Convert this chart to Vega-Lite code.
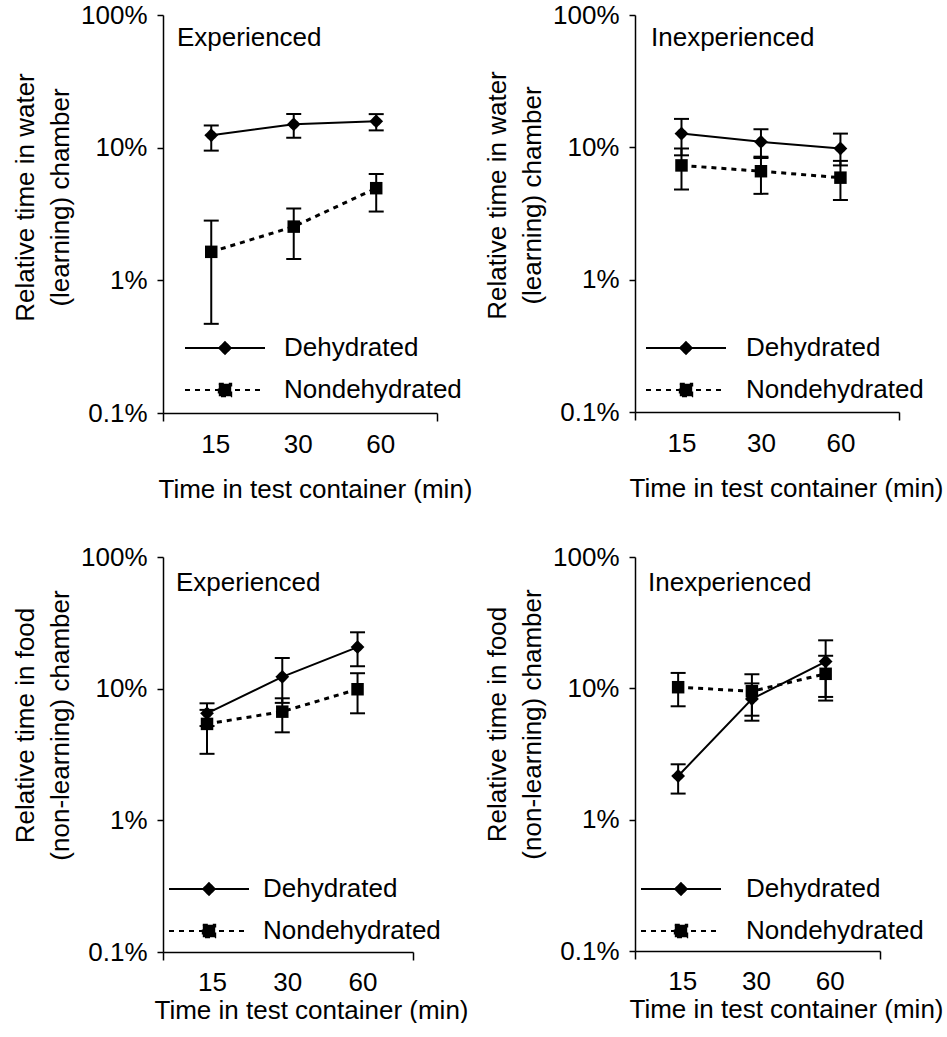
{
  "$schema": "https://vega.github.io/schema/vega-lite/v6.json",
  "padding": {"left": 12, "top": 2, "right": 0, "bottom": 0},
  "background": "white",
  "data": {"values": [
    {"panel": "WE", "group": "Dehydrated", "time": 15, "mean": 12.4, "lo": 9.5, "hi": 14.7},
    {"panel": "WE", "group": "Dehydrated", "time": 30, "mean": 15.0, "lo": 11.9, "hi": 17.9},
    {"panel": "WE", "group": "Dehydrated", "time": 60, "mean": 15.8, "lo": 13.5, "hi": 17.9},
    {"panel": "WE", "group": "Nondehydrated", "time": 15, "mean": 1.64, "lo": 0.47, "hi": 2.82},
    {"panel": "WE", "group": "Nondehydrated", "time": 30, "mean": 2.54, "lo": 1.45, "hi": 3.48},
    {"panel": "WE", "group": "Nondehydrated", "time": 60, "mean": 4.95, "lo": 3.3, "hi": 6.33},
    {"panel": "WI", "group": "Dehydrated", "time": 15, "mean": 12.7, "lo": 8.7, "hi": 16.4},
    {"panel": "WI", "group": "Dehydrated", "time": 30, "mean": 11.0, "lo": 8.3, "hi": 13.7},
    {"panel": "WI", "group": "Dehydrated", "time": 60, "mean": 9.8, "lo": 7.3, "hi": 12.7},
    {"panel": "WI", "group": "Nondehydrated", "time": 15, "mean": 7.3, "lo": 4.8, "hi": 9.8},
    {"panel": "WI", "group": "Nondehydrated", "time": 30, "mean": 6.6, "lo": 4.45, "hi": 8.5},
    {"panel": "WI", "group": "Nondehydrated", "time": 60, "mean": 5.9, "lo": 4.0, "hi": 7.9},
    {"panel": "FE", "group": "Dehydrated", "time": 15, "mean": 6.5, "lo": 5.2, "hi": 7.74},
    {"panel": "FE", "group": "Dehydrated", "time": 30, "mean": 12.3, "lo": 7.8, "hi": 17.1},
    {"panel": "FE", "group": "Dehydrated", "time": 60, "mean": 20.7, "lo": 14.8, "hi": 26.8},
    {"panel": "FE", "group": "Nondehydrated", "time": 15, "mean": 5.4, "lo": 3.2, "hi": 6.9},
    {"panel": "FE", "group": "Nondehydrated", "time": 30, "mean": 6.69, "lo": 4.66, "hi": 8.45},
    {"panel": "FE", "group": "Nondehydrated", "time": 60, "mean": 9.9, "lo": 6.5, "hi": 13.1},
    {"panel": "FI", "group": "Dehydrated", "time": 15, "mean": 2.15, "lo": 1.58, "hi": 2.64},
    {"panel": "FI", "group": "Dehydrated", "time": 30, "mean": 8.3, "lo": 5.67, "hi": 10.9},
    {"panel": "FI", "group": "Dehydrated", "time": 60, "mean": 16.0, "lo": 8.6, "hi": 23.2},
    {"panel": "FI", "group": "Nondehydrated", "time": 15, "mean": 10.2, "lo": 7.3, "hi": 13.1},
    {"panel": "FI", "group": "Nondehydrated", "time": 30, "mean": 9.5, "lo": 6.19, "hi": 12.8},
    {"panel": "FI", "group": "Nondehydrated", "time": 60, "mean": 12.9, "lo": 8.07, "hi": 17.7}
  ]},
  "columns": 2,
  "bounds": "flush",
  "spacing": {"column": 198, "row": 144},
  "resolve": {"scale": {"strokeDash": "independent"}, "legend": {"strokeDash": "independent"}},
  "concat": [
    {
      "width": 274, "height": 398,
      "title": {"text": "Experienced", "anchor": "start", "frame": "group", "orient": "top", "dx": 14, "offset": -22, "dy": 40, "baseline": "middle"},
      "transform": [{"filter": "datum.panel === 'WE'"}],
      "encoding": {"x": {"field": "time", "type": "quantitative", "title": "Time in test container (min)", "scale": {"type": "log", "domain": [10, 100], "nice": false},
        "axis": {"values": [10, 15, 30, 60, 100], "labelExpr": "datum.value == 10 || datum.value == 100 ? '' : format(datum.value, 'd')", "tickSize": 8, "tickOpacity": {"condition": {"test": "datum.value == 10 || datum.value == 100", "value": 1}, "value": 0}, "labelPadding": 10, "titlePadding": 19, "titleX": 152, "labelOffset": 4, "labelOverlap": false, "labelFlush": false}}},
      "layer": [
        {"transform": [{"filter": "datum.group === 'Dehydrated'"}],
         "mark": {"type": "line", "color": "black", "strokeWidth": 2},
         "encoding": {"y": {"field": "mean", "type": "quantitative", "title": ["Relative time in water", "(learning) chamber"], "scale": {"type": "log", "domain": [0.1, 100], "nice": false},
             "axis": {"values": [0.1, 1, 10, 100], "labelExpr": "format(datum.value, '~g') + '%'", "tickSize": 6, "labelPadding": 10, "titlePadding": 7, "titleLineHeight": 35, "titleY": 182, "labelOverlap": false}}}},
        {"transform": [{"filter": "datum.group === 'Nondehydrated'"}],
         "mark": {"type": "line", "color": "black", "strokeWidth": 3, "strokeDash": [5, 5]},
         "encoding": {"y": {"field": "mean", "type": "quantitative", "title": ["Relative time in water", "(learning) chamber"], "scale": {"type": "log", "domain": [0.1, 100], "nice": false}}}},
        {"mark": {"type": "rule", "color": "black", "strokeWidth": 2},
         "encoding": {"y": {"field": "lo", "type": "quantitative", "title": ["Relative time in water", "(learning) chamber"], "scale": {"type": "log", "domain": [0.1, 100], "nice": false}}, "y2": {"field": "hi"}}},
        {"mark": {"type": "tick", "orient": "horizontal", "color": "black", "size": 15, "thickness": 2, "opacity": 1},
         "encoding": {"y": {"field": "lo", "type": "quantitative", "title": ["Relative time in water", "(learning) chamber"], "scale": {"type": "log", "domain": [0.1, 100], "nice": false}}}},
        {"mark": {"type": "tick", "orient": "horizontal", "color": "black", "size": 15, "thickness": 2, "opacity": 1},
         "encoding": {"y": {"field": "hi", "type": "quantitative", "title": ["Relative time in water", "(learning) chamber"], "scale": {"type": "log", "domain": [0.1, 100], "nice": false}}}},
        {"transform": [{"filter": "datum.group === 'Dehydrated'"}],
         "mark": {"type": "point", "shape": "diamond", "filled": true, "fill": "black", "stroke": "black", "strokeWidth": 2, "size": 121, "opacity": 1},
         "encoding": {"y": {"field": "mean", "type": "quantitative", "title": ["Relative time in water", "(learning) chamber"], "scale": {"type": "log", "domain": [0.1, 100], "nice": false}},
           "strokeDash": {"field": "group", "type": "nominal", "scale": {"domain": ["Dehydrated", "Nondehydrated"], "range": [[1, 0], [5, 5]]},
             "legend": {"orient": "none", "legendX": 49, "legendY": 320, "title": null, "padding": 0, "symbolSize": 400, "symbolStrokeWidth": 2, "labelOffset": 46, "rowPadding": 16, "labelLimit": 400,
               "symbolType": {"expr": "datum.value === 'Dehydrated' ? 'M-4,0L4,0M0,-0.58L0.58,0L0,0.58L-0.58,0Z' : 'M-4,0L4,0M-0.62,-0.62L0.62,-0.62L0.62,0.62L-0.62,0.62Z'"}, "symbolFillColor": "black", "symbolStrokeColor": "black",
               "encoding": {"symbols": {"stroke": {"value": "black"}, "fill": {"value": "black"}, "strokeWidth": {"signal": "datum.value === 'Dehydrated' ? 2 : 2.5"}}}}}}},
        {"transform": [{"filter": "datum.group === 'Nondehydrated'"}],
         "mark": {"type": "point", "shape": "square", "filled": true, "color": "black", "size": 156, "opacity": 1},
         "encoding": {"y": {"field": "mean", "type": "quantitative", "title": ["Relative time in water", "(learning) chamber"], "scale": {"type": "log", "domain": [0.1, 100], "nice": false}}}}
      ]
    },
    {
      "width": 264, "height": 397,
      "title": {"text": "Inexperienced", "anchor": "start", "frame": "group", "orient": "top", "dx": 16, "offset": -22, "dy": 40, "baseline": "middle"},
      "transform": [{"filter": "datum.panel === 'WI'"}],
      "encoding": {"x": {"field": "time", "type": "quantitative", "title": "Time in test container (min)", "scale": {"type": "log", "domain": [10, 100], "nice": false},
        "axis": {"values": [10, 15, 30, 60, 100], "labelExpr": "datum.value == 10 || datum.value == 100 ? '' : format(datum.value, 'd')", "tickSize": 8, "tickOpacity": {"condition": {"test": "datum.value == 10 || datum.value == 100", "value": 1}, "value": 0}, "labelPadding": 10, "titlePadding": 19, "titleX": 151, "labelOffset": 0, "labelOverlap": false, "labelFlush": false}}},
      "layer": [
        {"transform": [{"filter": "datum.group === 'Dehydrated'"}],
         "mark": {"type": "line", "color": "black", "strokeWidth": 2},
         "encoding": {"y": {"field": "mean", "type": "quantitative", "title": ["Relative time in water", "(learning) chamber"], "scale": {"type": "log", "domain": [0.1, 100], "nice": false},
             "axis": {"values": [0.1, 1, 10, 100], "labelExpr": "format(datum.value, '~g') + '%'", "tickSize": 6, "labelPadding": 10, "titlePadding": 7, "titleLineHeight": 35, "titleY": 180, "labelOverlap": false}}}},
        {"transform": [{"filter": "datum.group === 'Nondehydrated'"}],
         "mark": {"type": "line", "color": "black", "strokeWidth": 3, "strokeDash": [5, 5]},
         "encoding": {"y": {"field": "mean", "type": "quantitative", "title": ["Relative time in water", "(learning) chamber"], "scale": {"type": "log", "domain": [0.1, 100], "nice": false}}}},
        {"mark": {"type": "rule", "color": "black", "strokeWidth": 2},
         "encoding": {"y": {"field": "lo", "type": "quantitative", "title": ["Relative time in water", "(learning) chamber"], "scale": {"type": "log", "domain": [0.1, 100], "nice": false}}, "y2": {"field": "hi"}}},
        {"mark": {"type": "tick", "orient": "horizontal", "color": "black", "size": 15, "thickness": 2, "opacity": 1},
         "encoding": {"y": {"field": "lo", "type": "quantitative", "title": ["Relative time in water", "(learning) chamber"], "scale": {"type": "log", "domain": [0.1, 100], "nice": false}}}},
        {"mark": {"type": "tick", "orient": "horizontal", "color": "black", "size": 15, "thickness": 2, "opacity": 1},
         "encoding": {"y": {"field": "hi", "type": "quantitative", "title": ["Relative time in water", "(learning) chamber"], "scale": {"type": "log", "domain": [0.1, 100], "nice": false}}}},
        {"transform": [{"filter": "datum.group === 'Dehydrated'"}],
         "mark": {"type": "point", "shape": "diamond", "filled": true, "fill": "black", "stroke": "black", "strokeWidth": 2, "size": 121, "opacity": 1},
         "encoding": {"y": {"field": "mean", "type": "quantitative", "title": ["Relative time in water", "(learning) chamber"], "scale": {"type": "log", "domain": [0.1, 100], "nice": false}},
           "strokeDash": {"field": "group", "type": "nominal", "scale": {"domain": ["Dehydrated", "Nondehydrated"], "range": [[1, 0], [5, 5]]},
             "legend": {"orient": "none", "legendX": 38, "legendY": 320, "title": null, "padding": 0, "symbolSize": 400, "symbolStrokeWidth": 2, "labelOffset": 47, "rowPadding": 16, "labelLimit": 400,
               "symbolType": {"expr": "datum.value === 'Dehydrated' ? 'M-4,0L4,0M0,-0.58L0.58,0L0,0.58L-0.58,0Z' : 'M-4,0L4,0M-0.62,-0.62L0.62,-0.62L0.62,0.62L-0.62,0.62Z'"}, "symbolFillColor": "black", "symbolStrokeColor": "black",
               "encoding": {"symbols": {"stroke": {"value": "black"}, "fill": {"value": "black"}, "strokeWidth": {"signal": "datum.value === 'Dehydrated' ? 2 : 2.5"}}}}}}},
        {"transform": [{"filter": "datum.group === 'Nondehydrated'"}],
         "mark": {"type": "point", "shape": "square", "filled": true, "color": "black", "size": 156, "opacity": 1},
         "encoding": {"y": {"field": "mean", "type": "quantitative", "title": ["Relative time in water", "(learning) chamber"], "scale": {"type": "log", "domain": [0.1, 100], "nice": false}}}}
      ]
    },
    {
      "width": 250, "height": 395,
      "title": {"text": "Experienced", "anchor": "start", "frame": "group", "orient": "top", "dx": 13, "offset": -22, "dy": 43, "baseline": "middle"},
      "transform": [{"filter": "datum.panel === 'FE'"}],
      "encoding": {"x": {"field": "time", "type": "quantitative", "title": "Time in test container (min)", "scale": {"type": "log", "domain": [10, 100], "nice": false},
        "axis": {"values": [10, 15, 30, 60, 100], "labelExpr": "datum.value == 10 || datum.value == 100 ? '' : format(datum.value, 'd')", "tickSize": 8, "tickOpacity": {"condition": {"test": "datum.value == 10 || datum.value == 100", "value": 1}, "value": 0}, "labelPadding": 9, "titlePadding": 2, "titleX": 148, "labelOffset": 5, "labelOverlap": false, "labelFlush": false}}},
      "layer": [
        {"transform": [{"filter": "datum.group === 'Dehydrated'"}],
         "mark": {"type": "line", "color": "black", "strokeWidth": 2},
         "encoding": {"y": {"field": "mean", "type": "quantitative", "title": ["Relative time in food", "(non-learning) chamber"], "scale": {"type": "log", "domain": [0.1, 100], "nice": false},
             "axis": {"values": [0.1, 1, 10, 100], "labelExpr": "format(datum.value, '~g') + '%'", "tickSize": 6, "labelPadding": 10, "titlePadding": 7, "titleLineHeight": 35, "titleY": 168, "labelOverlap": false}}}},
        {"transform": [{"filter": "datum.group === 'Nondehydrated'"}],
         "mark": {"type": "line", "color": "black", "strokeWidth": 3, "strokeDash": [5, 5]},
         "encoding": {"y": {"field": "mean", "type": "quantitative", "title": ["Relative time in food", "(non-learning) chamber"], "scale": {"type": "log", "domain": [0.1, 100], "nice": false}}}},
        {"mark": {"type": "rule", "color": "black", "strokeWidth": 2},
         "encoding": {"y": {"field": "lo", "type": "quantitative", "title": ["Relative time in food", "(non-learning) chamber"], "scale": {"type": "log", "domain": [0.1, 100], "nice": false}}, "y2": {"field": "hi"}}},
        {"mark": {"type": "tick", "orient": "horizontal", "color": "black", "size": 15, "thickness": 2, "opacity": 1},
         "encoding": {"y": {"field": "lo", "type": "quantitative", "title": ["Relative time in food", "(non-learning) chamber"], "scale": {"type": "log", "domain": [0.1, 100], "nice": false}}}},
        {"mark": {"type": "tick", "orient": "horizontal", "color": "black", "size": 15, "thickness": 2, "opacity": 1},
         "encoding": {"y": {"field": "hi", "type": "quantitative", "title": ["Relative time in food", "(non-learning) chamber"], "scale": {"type": "log", "domain": [0.1, 100], "nice": false}}}},
        {"transform": [{"filter": "datum.group === 'Dehydrated'"}],
         "mark": {"type": "point", "shape": "diamond", "filled": true, "fill": "black", "stroke": "black", "strokeWidth": 2, "size": 121, "opacity": 1},
         "encoding": {"y": {"field": "mean", "type": "quantitative", "title": ["Relative time in food", "(non-learning) chamber"], "scale": {"type": "log", "domain": [0.1, 100], "nice": false}},
           "strokeDash": {"field": "group", "type": "nominal", "scale": {"domain": ["Dehydrated", "Nondehydrated"], "range": [[1, 0], [5, 5]]},
             "legend": {"orient": "none", "legendX": 33, "legendY": 319, "title": null, "padding": 0, "symbolSize": 400, "symbolStrokeWidth": 2, "labelOffset": 41, "rowPadding": 16, "labelLimit": 400,
               "symbolType": {"expr": "datum.value === 'Dehydrated' ? 'M-4,0L4,0M0,-0.58L0.58,0L0,0.58L-0.58,0Z' : 'M-4,0L4,0M-0.62,-0.62L0.62,-0.62L0.62,0.62L-0.62,0.62Z'"}, "symbolFillColor": "black", "symbolStrokeColor": "black",
               "encoding": {"symbols": {"stroke": {"value": "black"}, "fill": {"value": "black"}, "strokeWidth": {"signal": "datum.value === 'Dehydrated' ? 2 : 2.5"}}}}}}},
        {"transform": [{"filter": "datum.group === 'Nondehydrated'"}],
         "mark": {"type": "point", "shape": "square", "filled": true, "color": "black", "size": 156, "opacity": 1},
         "encoding": {"y": {"field": "mean", "type": "quantitative", "title": ["Relative time in food", "(non-learning) chamber"], "scale": {"type": "log", "domain": [0.1, 100], "nice": false}}}}
      ]
    },
    {
      "width": 245, "height": 394,
      "title": {"text": "Inexperienced", "anchor": "start", "frame": "group", "orient": "top", "dx": 13, "offset": -22, "dy": 43, "baseline": "middle"},
      "transform": [{"filter": "datum.panel === 'FI'"}],
      "encoding": {"x": {"field": "time", "type": "quantitative", "title": "Time in test container (min)", "scale": {"type": "log", "domain": [10, 100], "nice": false},
        "axis": {"values": [10, 15, 30, 60, 100], "labelExpr": "datum.value == 10 || datum.value == 100 ? '' : format(datum.value, 'd')", "tickSize": 8, "tickOpacity": {"condition": {"test": "datum.value == 10 || datum.value == 100", "value": 1}, "value": 0}, "labelPadding": 9, "titlePadding": 2, "titleX": 151, "labelOffset": 4, "labelOverlap": false, "labelFlush": false}}},
      "layer": [
        {"transform": [{"filter": "datum.group === 'Dehydrated'"}],
         "mark": {"type": "line", "color": "black", "strokeWidth": 2},
         "encoding": {"y": {"field": "mean", "type": "quantitative", "title": ["Relative time in food", "(non-learning) chamber"], "scale": {"type": "log", "domain": [0.1, 100], "nice": false},
             "axis": {"values": [0.1, 1, 10, 100], "labelExpr": "format(datum.value, '~g') + '%'", "tickSize": 6, "labelPadding": 10, "titlePadding": 7, "titleLineHeight": 35, "titleY": 167, "labelOverlap": false}}}},
        {"transform": [{"filter": "datum.group === 'Nondehydrated'"}],
         "mark": {"type": "line", "color": "black", "strokeWidth": 3, "strokeDash": [5, 5]},
         "encoding": {"y": {"field": "mean", "type": "quantitative", "title": ["Relative time in food", "(non-learning) chamber"], "scale": {"type": "log", "domain": [0.1, 100], "nice": false}}}},
        {"mark": {"type": "rule", "color": "black", "strokeWidth": 2},
         "encoding": {"y": {"field": "lo", "type": "quantitative", "title": ["Relative time in food", "(non-learning) chamber"], "scale": {"type": "log", "domain": [0.1, 100], "nice": false}}, "y2": {"field": "hi"}}},
        {"mark": {"type": "tick", "orient": "horizontal", "color": "black", "size": 15, "thickness": 2, "opacity": 1},
         "encoding": {"y": {"field": "lo", "type": "quantitative", "title": ["Relative time in food", "(non-learning) chamber"], "scale": {"type": "log", "domain": [0.1, 100], "nice": false}}}},
        {"mark": {"type": "tick", "orient": "horizontal", "color": "black", "size": 15, "thickness": 2, "opacity": 1},
         "encoding": {"y": {"field": "hi", "type": "quantitative", "title": ["Relative time in food", "(non-learning) chamber"], "scale": {"type": "log", "domain": [0.1, 100], "nice": false}}}},
        {"transform": [{"filter": "datum.group === 'Dehydrated'"}],
         "mark": {"type": "point", "shape": "diamond", "filled": true, "fill": "black", "stroke": "black", "strokeWidth": 2, "size": 121, "opacity": 1},
         "encoding": {"y": {"field": "mean", "type": "quantitative", "title": ["Relative time in food", "(non-learning) chamber"], "scale": {"type": "log", "domain": [0.1, 100], "nice": false}},
           "strokeDash": {"field": "group", "type": "nominal", "scale": {"domain": ["Dehydrated", "Nondehydrated"], "range": [[1, 0], [5, 5]]},
             "legend": {"orient": "none", "legendX": 33, "legendY": 319, "title": null, "padding": 0, "symbolSize": 400, "symbolStrokeWidth": 2, "labelOffset": 52, "rowPadding": 16, "labelLimit": 400,
               "symbolType": {"expr": "datum.value === 'Dehydrated' ? 'M-4,0L4,0M0,-0.58L0.58,0L0,0.58L-0.58,0Z' : 'M-4,0L4,0M-0.62,-0.62L0.62,-0.62L0.62,0.62L-0.62,0.62Z'"}, "symbolFillColor": "black", "symbolStrokeColor": "black",
               "encoding": {"symbols": {"stroke": {"value": "black"}, "fill": {"value": "black"}, "strokeWidth": {"signal": "datum.value === 'Dehydrated' ? 2 : 2.5"}}}}}}},
        {"transform": [{"filter": "datum.group === 'Nondehydrated'"}],
         "mark": {"type": "point", "shape": "square", "filled": true, "color": "black", "size": 156, "opacity": 1},
         "encoding": {"y": {"field": "mean", "type": "quantitative", "title": ["Relative time in food", "(non-learning) chamber"], "scale": {"type": "log", "domain": [0.1, 100], "nice": false}}}}
      ]
    }
  ],
  "config": {
    "font": "Liberation Sans",
    "view": {"stroke": null},
    "axis": {"grid": false, "domainColor": "black", "domainWidth": 1.5, "tickColor": "black", "tickWidth": 1.5, "labelColor": "black", "titleColor": "black", "labelFont": "Liberation Sans", "titleFont": "Liberation Sans", "labelFontSize": 26, "titleFontSize": 26, "titleFontWeight": "normal"},
    "legend": {"labelFont": "Liberation Sans", "labelFontSize": 26, "labelColor": "black"},
    "title": {"font": "Liberation Sans", "fontSize": 26, "fontWeight": "normal", "color": "black"}
  }
}
